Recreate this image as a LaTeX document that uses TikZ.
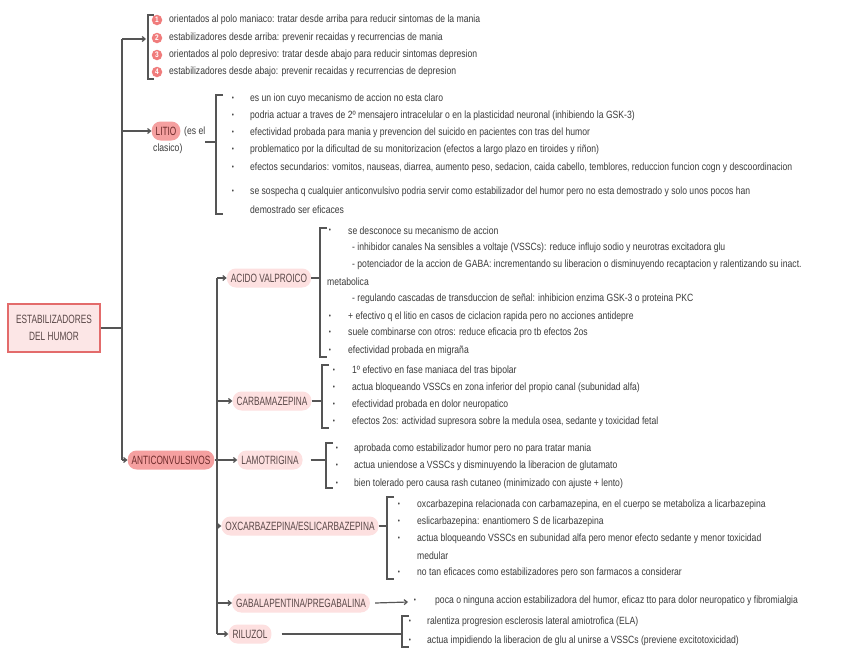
\documentclass[tikz,border=0pt]{standalone}
\usepackage{fontspec}
\setmainfont{Liberation Sans}
\newfontfamily\bodyf[FakeStretch=0.82]{Liberation Sans}
\newfontfamily\labf[FakeStretch=0.69]{Liberation Sans}
\usetikzlibrary{arrows.meta}
\definecolor{tgray}{HTML}{3C3C3C}
\definecolor{lgray}{HTML}{555555}
\definecolor{pinkS}{HTML}{F5A0A0}
\definecolor{pinkL}{HTML}{FDE0E0}
\definecolor{rootF}{HTML}{FCE6E6}
\definecolor{redB}{HTML}{E36B6B}
\definecolor{numR}{HTML}{F07C7C}
\definecolor{labS}{HTML}{6E2B2B}
\definecolor{labL}{HTML}{5A4848}
\begin{document}
\begin{tikzpicture}[x=1pt,y=-1pt,
 txt/.style={anchor=west,inner sep=0pt,text=tgray,font=\bodyf\fontsize{10.5}{12}\selectfont},
 bul/.style={inner sep=0pt,text=tgray,font=\bodyf\fontsize{7.5}{7.5}\selectfont},
 wire/.style={draw=lgray,line width=1.2pt},
 arr/.style={wire,-{Straight Barb[length=3pt,width=5pt]}},
 pill/.style={rounded corners=9pt,minimum height=19pt,inner xsep=4pt,inner ysep=0pt,font=\labf\fontsize{12}{14}\selectfont},
 pillS/.style={pill,fill=pinkS,text=labS},
 pillL/.style={pill,fill=pinkL,text=labL},
 num/.style={circle,fill=numR,inner sep=0pt,minimum size=10.5pt,text=white,font=\bodyf\fontsize{8}{8}\selectfont\bfseries}
]
\fill[white] (0,0) rectangle (848,656);
\useasboundingbox (0,0) rectangle (848,656);

% root
\node[draw=redB,fill=rootF,line width=1.3pt,minimum width=92pt,minimum height=48pt,align=center,text=labL,font=\labf\fontsize{12}{17}\selectfont] (root) at (54,328) {ESTABILIZADORES\\DEL HUMOR};
\coordinate (mtop) at (122,39);
\coordinate (mbot) at (122,460);
\draw[wire] (mtop) -- (mbot);
\draw[wire] (root.east) -- (root.east -| mtop);

% top list
\coordinate (b0in) at (146,39);
\draw[arr] (mtop) -- (b0in);
\draw[wire] (154,15) -- (148,15) -- (148,79) -- (154,79);
\node[num] (n1) at (157,20) {1};
\node[num] (n2) at (157,38) {2};
\node[num] (n3) at (157,55) {3};
\node[num] (n4) at (157,72) {4};
\node[txt] (t1) at (169,20) {orientados al polo maniaco: tratar desde arriba para reducir sintomas de la mania};
\node[txt] (t2) at (169,38) {estabilizadores desde arriba: prevenir recaidas y recurrencias de mania};
\node[txt] (t3) at (169,55) {orientados al polo depresivo: tratar desde abajo para reducir sintomas depresion};
\node[txt] (t4) at (169,72) {estabilizadores desde abajo: prevenir recaidas y recurrencias de depresion};

% litio
\node[pillS] (litio) at (166,131) {LITIO};
\node[txt] (litio2) at (184,132) {(es el};
\node[txt] (litio3) at (153,149) {clasico)};
\draw[arr] (litio.west -| mtop) -- (litio.west);
\coordinate (l1) at (205,142);
\coordinate (bl) at (216,142);
\draw[wire] (l1) -- (bl);
\draw[wire] (223,95) -- (216,95) -- (216,214) -- (223,214);
\foreach \y/\n in {99/a,116/b,133/c,150/d,168/e,192/f}{\node[bul] (lb\n) at (233,\y) {•};}
\node[txt] (la) at (250,99) {es un ion cuyo mecanismo de accion no esta claro};
\node[txt] (lb) at (250,116) {podria actuar a traves de 2º mensajero intracelular o en la plasticidad neuronal (inhibiendo la GSK-3)};
\node[txt] (lc) at (250,133) {efectividad probada para mania y prevencion del suicido en pacientes con tras del humor};
\node[txt] (ld) at (250,150) {problematico por la dificultad de su monitorizacion (efectos a largo plazo en tiroides y riñon)};
\node[txt] (le) at (250,168) {efectos secundarios: vomitos, nauseas, diarrea, aumento peso, sedacion, caida cabello, temblores, reduccion funcion cogn y descoordinacion};
\node[txt] (lf) at (250,192) {se sospecha q cualquier anticonvulsivo podria servir como estabilizador del humor pero no esta demostrado y solo unos pocos han};
\node[txt] (lg) at (250,210) {demostrado ser eficaces};

% anticonvulsivos
\node[pillS] (anti) at (171,460) {ANTICONVULSIVOS};
\draw[arr] (mbot) -- (anti.west);
\coordinate (vtop) at (217,278);
\coordinate (vbot) at (217,634);
\draw[wire] (vtop) -- (vbot);
\draw[wire] (anti.east) -- (anti.east -| vtop);

% acido valproico
\node[pillL] (avp) at (269,278) {ACIDO VALPROICO};
\draw[arr] (vtop) -- (avp.west);
\coordinate (bavp) at (320,278);
\draw[wire] (avp.east) -- (bavp);
\draw[wire] (327,228) -- (320,228) -- (320,357) -- (327,357);
\foreach \y/\n in {231/a,317/b,333/c,351/d}{\node[bul] (vb\n) at (330,\y) {•};}
\node[txt] (va) at (348,231) {se desconoce su mecanismo de accion};
\node[txt] (vs1) at (352,248) {- inhibidor canales Na sensibles a voltaje (VSSCs): reduce influjo sodio y neurotras excitadora glu};
\node[txt] (vs2) at (352,265) {- potenciador de la accion de GABA: incrementando su liberacion o disminuyendo recaptacion y ralentizando su inact.};
\node[txt] (vs2b) at (327,282) {metabolica};
\node[txt] (vs3) at (352,299) {- regulando cascadas de transduccion de señal: inhibicion enzima GSK-3 o proteina PKC};
\node[txt] (vb) at (348,317) {+ efectivo q el litio en casos de ciclacion rapida pero no acciones antidepre};
\node[txt] (vc) at (348,333) {suele combinarse con otros: reduce eficacia pro tb efectos 2os};
\node[txt] (vd) at (348,351) {efectividad probada en migraña};

% carbamazepina
\node[pillL] (carb) at (272,401) {CARBAMAZEPINA};
\draw[arr] (carb.west -| vtop) -- (carb.west);
\coordinate (bcarb) at (322,401);
\draw[wire] (carb.east) -- (bcarb);
\draw[wire] (329,365) -- (322,365) -- (322,428) -- (329,428);
\foreach \y/\n in {371/a,388/b,405/c,422/d}{\node[bul] (cb\n) at (334,\y) {•};}
\node[txt] (ca) at (352,371) {1º efectivo en fase maniaca del tras bipolar};
\node[txt] (cb) at (352,388) {actua bloqueando VSSCs en zona inferior del propio canal (subunidad alfa)};
\node[txt] (cc) at (352,405) {efectividad probada en dolor neuropatico};
\node[txt] (cd) at (352,422) {efectos 2os: actividad supresora sobre la medula osea, sedante y toxicidad fetal};

% lamotrigina
\node[pillL] (lamo) at (270,460) {LAMOTRIGINA};
\draw[arr] (lamo.west -| vtop) -- (lamo.west);
\coordinate (blamo) at (326,460);
\draw[wire] ([xshift=8pt]lamo.east) -- (blamo);
\draw[wire] (333,443) -- (326,443) -- (326,488) -- (333,488);
\foreach \y/\n in {449/a,466/b,484/c}{\node[bul] (mb\n) at (337,\y) {•};}
\node[txt] (ma) at (354,449) {aprobada como estabilizador humor pero no para tratar mania};
\node[txt] (mb) at (354,466) {actua uniendose a VSSCs y disminuyendo la liberacion de glutamato};
\node[txt] (mc) at (354,484) {bien tolerado pero causa rash cutaneo (minimizado con ajuste + lento)};

% oxcarbazepina
\node[pillL] (oxc) at (300,526) {OXCARBAZEPINA/ESLICARBAZEPINA};
\draw[arr] (oxc.west -| vtop) -- (oxc.west);
\coordinate (boxc) at (387,526);
\draw[wire] (oxc.east) -- (boxc);
\draw[wire] (394,497) -- (387,497) -- (387,579) -- (394,579);
\foreach \y/\n in {505/a,522/b,539/c,573/d}{\node[bul] (ob\n) at (399,\y) {•};}
\node[txt] (oa) at (417,505) {oxcarbazepina relacionada con carbamazepina, en el cuerpo se metaboliza a licarbazepina};
\node[txt] (ob) at (417,522) {eslicarbazepina: enantiomero S de licarbazepina};
\node[txt] (oc) at (417,539) {actua bloqueando VSSCs en subunidad alfa pero menor efecto sedante y menor toxicidad};
\node[txt] (oc2) at (417,556) {medular};
\node[txt] (od) at (417,573) {no tan eficaces como estabilizadores pero son farmacos a considerar};

% gabapentina
\node[pillL] (gaba) at (301,603) {GABALAPENTINA/PREGABALINA};
\draw[arr] (gaba.west -| vtop) -- (gaba.west);
\coordinate (gend) at (408,602);
\draw[arr] ([xshift=5pt]gaba.east) -- (gend);
\node[bul] (gb) at (415,601) {•};
\node[txt] (ga) at (435,601) {poca o ninguna accion estabilizadora del humor, eficaz tto para dolor neuropatico y fibromialgia};

% riluzol
\node[pillL] (ril) at (250,634) {RILUZOL};
\draw[arr] (vbot) -- (ril.west);
\coordinate (bril) at (402,634);
\draw[wire] ([xshift=10pt]ril.east) -- (bril);
\draw[wire] (409,616) -- (402,616) -- (402,647) -- (409,647);
\foreach \y/\n in {622/a,641/b}{\node[bul] (rb\n) at (410,\y) {•};}
\node[txt] (ra) at (427,622) {ralentiza progresion esclerosis lateral amiotrofica (ELA)};
\node[txt] (rb) at (427,641) {actua impidiendo la liberacion de glu al unirse a VSSCs (previene excitotoxicidad)};
\end{tikzpicture}
\end{document}
